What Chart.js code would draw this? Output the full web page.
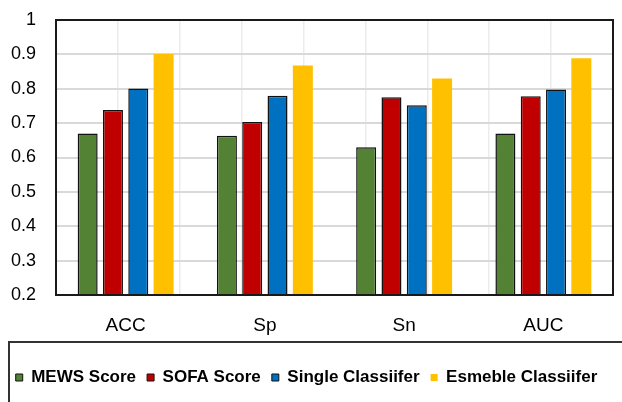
<!DOCTYPE html>
<html>
<head>
<meta charset="utf-8">
<script src="https://cdn.jsdelivr.net/npm/chart.js@4.4.1/dist/chart.umd.min.js"></script>
<style>
html,body{margin:0;padding:0;background:#fff;}
#wrap{width:622px;height:402px;}
</style>
</head>
<body>
<div id="wrap"><canvas id="c" width="622" height="402"></canvas></div>
<script>
const categories = ["ACC", "Sp", "Sn", "AUC"];
const seriesNames = ["MEWS Score", "SOFA Score", "Single Classiifer", "Esmeble Classiifer"];
const mewsScore = [0.670, 0.663, 0.630, 0.670];
const sofaScore = [0.738, 0.703, 0.775, 0.778];
const singleClassifier = [0.801, 0.780, 0.752, 0.798];
const ensembleClassifier = [0.901, 0.868, 0.830, 0.889];
const yTicks = [0.2, 0.3, 0.4, 0.5, 0.6, 0.7, 0.8, 0.9, 1];

const colors = ["#548235", "#C00000", "#0070C0", "#FFC000"];
const values = [mewsScore, sofaScore, singleClassifier, ensembleClassifier];

const datasets = seriesNames.map((name, i) => ({
  label: name,
  data: values[i],
  backgroundColor: colors[i],
  borderColor: i === 3 ? colors[i] : "#111",
  borderWidth: i === 3 ? 0 : 1.5,
  categoryPercentage: 0.727,
  barPercentage: 0.79,
  xAxisID: "x",
  yAxisID: "y"
}));

const framePlugin = {
  id: "frame",
  afterDraw(chart) {
    const ctx = chart.ctx;
    const a = chart.chartArea;
    ctx.save();
    ctx.strokeStyle = "#1a1a1a";
    ctx.lineWidth = 2;
    ctx.strokeRect(a.left, a.top, a.right - a.left, a.bottom - a.top);
    const lg = chart.legend;
    ctx.lineWidth = 2;
    ctx.strokeStyle = "#333";
    ctx.strokeRect(9, lg.top - 16, 700, 200);
    ctx.restore();
  }
};

new Chart(document.getElementById("c"), {
  type: "bar",
  data: { labels: categories, datasets: datasets },
  options: {
    responsive: false,
    animation: false,
    events: [],
    layout: { padding: { top: 20, right: 9, left: 0, bottom: 6 } },
    plugins: {
      tooltip: { enabled: false },
      legend: {
        position: "bottom",
        align: "center",
        labels: {
          boxWidth: 7,
          boxHeight: 7,
          padding: 11,
          color: "#000",
          font: { family: "'Liberation Sans', Arial, sans-serif", size: 17, weight: "bold" },
          generateLabels(chart) {
            return chart.data.datasets.map((d, i) => ({
              text: d.label,
              fillStyle: d.backgroundColor,
              strokeStyle: i === 3 ? d.backgroundColor : "#111",
              lineWidth: i === 3 ? 0 : 1,
              datasetIndex: i,
              fontColor: "#000"
            }));
          }
        }
      }
    },
    scales: {
      x: {
        type: "category",
        grid: { display: false, drawTicks: false },
        border: { display: false },
        afterFit(scale) { scale.height = 63; },
        ticks: {
          padding: 19,
          color: "#000",
          font: { family: "'Liberation Sans', Arial, sans-serif", size: 19 }
        }
      },
      xg: {
        type: "linear",
        position: "top",
        min: 0,
        max: 8,
        display: true,
        afterFit(scale) { scale.height = 0; },
        ticks: { display: false, stepSize: 1 },
        grid: { color: "#ececec", lineWidth: 1.5, drawTicks: false },
        border: { display: false }
      },
      y: {
        min: 0.2,
        max: 1,
        afterBuildTicks(scale) { scale.ticks = yTicks.map(v => ({ value: v })); },
        afterFit(scale) { scale.width = 56; },
        grid: { color: "#d9d9d9", lineWidth: 2, drawTicks: true, tickLength: 20, tickColor: "rgba(0,0,0,0)" },
        border: { display: false },
        ticks: {
          padding: 0,
          color: "#000",
          font: { family: "'Liberation Sans', Arial, sans-serif", size: 18 },
          callback: v => String(+Number(v).toFixed(1))
        }
      }
    }
  },
  plugins: [framePlugin]
});
</script>
</body>
</html>
